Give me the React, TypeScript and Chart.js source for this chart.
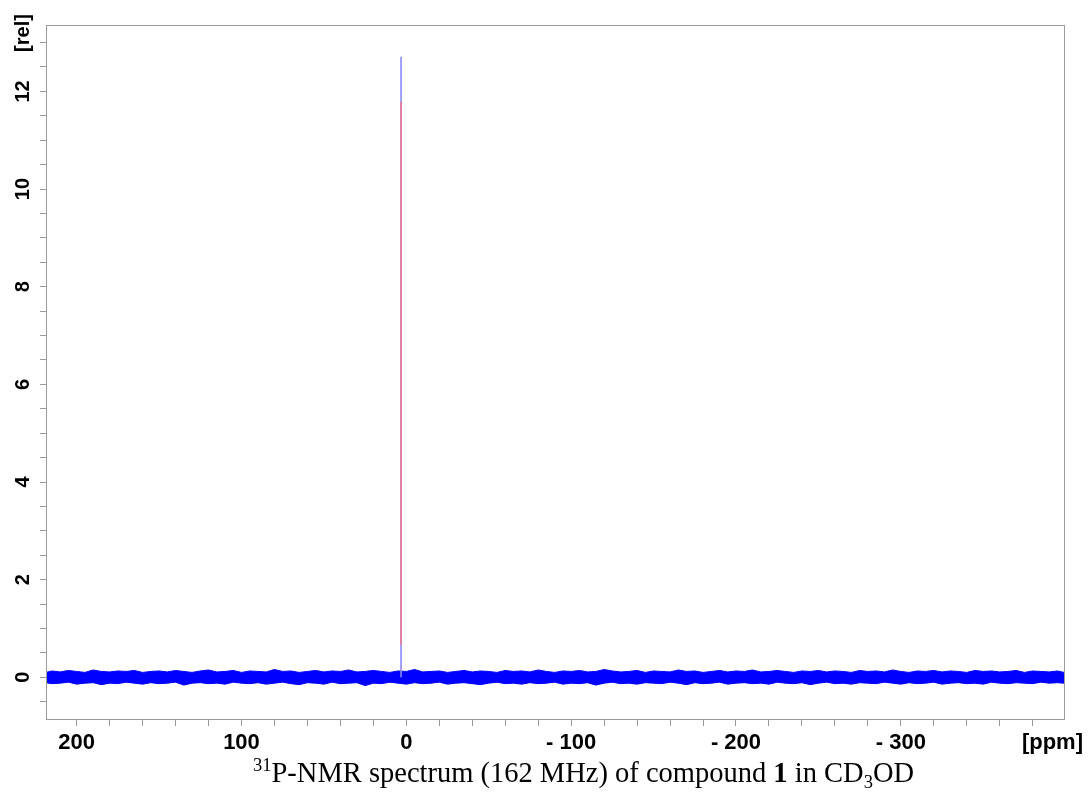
import React, { useEffect, useRef } from "react";
import { Chart, registerables } from "chart.js";

Chart.register(...registerables);

// ---- data ----
const xMinPpm = -399;
const xMaxPpm = 218.6;
const yMinRel = -0.854;
const yMaxRel = 13.36;

const peakPpm = 3.2;
const peakBlueTop = 12.71;
const peakRedBottom = 0.66;
const peakRedTop = 11.79;

// baseline noise envelope (ppm positions and upper / lower extents)
const noisePpm = [
  218.6, 215, 210, 205, 200, 195, 190, 185, 180, 175,
  170, 165, 160, 155, 150, 145, 140, 135, 130, 125,
  120, 115, 110, 105, 100, 95, 90, 85, 80, 75,
  70, 65, 60, 55, 50, 45, 40, 35, 30, 25,
  20, 15, 10, 5, 0, -5, -10, -15, -20, -25,
  -30, -35, -40, -45, -50, -55, -60, -65, -70, -75,
  -80, -85, -90, -95, -100, -105, -110, -115, -120, -125,
  -130, -135, -140, -145, -150, -155, -160, -165, -170, -175,
  -180, -185, -190, -195, -200, -205, -210, -215, -220, -225,
  -230, -235, -240, -245, -250, -255, -260, -265, -270, -275,
  -280, -285, -290, -295, -300, -305, -310, -315, -320, -325,
  -330, -335, -340, -345, -350, -355, -360, -365, -370, -375,
  -380, -385, -390, -395, -399,
];
const noiseUpper = [
  0.10, 0.13, 0.11, 0.14, 0.12, 0.10, 0.15, 0.12, 0.11, 0.13,
  0.12, 0.14, 0.10, 0.12, 0.13, 0.11, 0.14, 0.12, 0.10, 0.13,
  0.15, 0.11, 0.12, 0.14, 0.10, 0.13, 0.12, 0.11, 0.16, 0.12,
  0.13, 0.10, 0.12, 0.14, 0.11, 0.13, 0.12, 0.15, 0.11, 0.12,
  0.14, 0.12, 0.10, 0.13, 0.12, 0.16, 0.11, 0.12, 0.13, 0.10,
  0.12, 0.14, 0.11, 0.13, 0.12, 0.10, 0.14, 0.12, 0.13, 0.11,
  0.15, 0.12, 0.10, 0.13, 0.12, 0.14, 0.11, 0.12, 0.16, 0.13,
  0.11, 0.12, 0.14, 0.10, 0.13, 0.12, 0.11, 0.15, 0.12, 0.13,
  0.10, 0.12, 0.14, 0.11, 0.13, 0.12, 0.15, 0.11, 0.12, 0.14,
  0.12, 0.10, 0.13, 0.12, 0.14, 0.11, 0.13, 0.12, 0.10, 0.14,
  0.12, 0.13, 0.11, 0.15, 0.12, 0.10, 0.13, 0.12, 0.14, 0.11,
  0.13, 0.12, 0.10, 0.14, 0.12, 0.13, 0.11, 0.12, 0.14, 0.10,
  0.13, 0.12, 0.11, 0.13, 0.10,
];
const noiseLower = [
  -0.11, -0.13, -0.12, -0.10, -0.14, -0.12, -0.11, -0.15, -0.12, -0.13,
  -0.10, -0.12, -0.14, -0.11, -0.13, -0.12, -0.10, -0.16, -0.12, -0.11,
  -0.13, -0.12, -0.14, -0.10, -0.12, -0.13, -0.11, -0.14, -0.12, -0.10,
  -0.13, -0.15, -0.11, -0.12, -0.14, -0.10, -0.13, -0.12, -0.11, -0.17,
  -0.12, -0.13, -0.10, -0.12, -0.14, -0.11, -0.13, -0.12, -0.10, -0.14,
  -0.12, -0.11, -0.13, -0.15, -0.12, -0.10, -0.13, -0.12, -0.14, -0.11,
  -0.13, -0.12, -0.10, -0.14, -0.12, -0.13, -0.11, -0.16, -0.12, -0.10,
  -0.13, -0.12, -0.14, -0.11, -0.12, -0.13, -0.10, -0.12, -0.15, -0.11,
  -0.13, -0.12, -0.10, -0.14, -0.12, -0.11, -0.13, -0.12, -0.14, -0.10,
  -0.12, -0.13, -0.11, -0.15, -0.12, -0.10, -0.13, -0.12, -0.14, -0.11,
  -0.12, -0.13, -0.10, -0.12, -0.14, -0.11, -0.13, -0.12, -0.10, -0.14,
  -0.12, -0.11, -0.13, -0.12, -0.14, -0.10, -0.12, -0.13, -0.11, -0.12,
  -0.13, -0.10, -0.12, -0.11, -0.12,
];

const xTickStep = 20;
const xLabelEvery = 100;
const yTickStep = 0.5;
const yLabelEvery = 2;
const xUnitLabel = "[ppm]";
const yUnitLabel = "[rel]";

const FONT_FAMILY = "Arial, 'Liberation Sans', sans-serif";
const X_FONT = "bold 22px " + FONT_FAMILY;
const Y_FONT = "bold 20px " + FONT_FAMILY;
const FRAME_COLOR = "#9a9a9a";

const formatPpm = (v: number) => (v < 0 ? "- " + String(-v) : String(v));

const overlayPlugin = {
  id: "nmrOverlay",
  afterDraw(chart: any) {
    const { ctx, chartArea, scales } = chart;
    const ys = scales.y;
    ctx.save();
    // frame
    ctx.strokeStyle = FRAME_COLOR;
    ctx.lineWidth = 1;
    ctx.strokeRect(
      Math.round(chartArea.left) + 0.5,
      Math.round(chartArea.top) + 0.5,
      Math.round(chartArea.right - chartArea.left),
      Math.round(chartArea.bottom - chartArea.top)
    );
    // rotated y labels
    ctx.fillStyle = "#000";
    ctx.font = Y_FONT;
    ctx.textAlign = "center";
    ctx.textBaseline = "middle";
    const labelX = 23;
    ys.ticks.forEach((t: any) => {
      const v = t.value;
      if (Math.abs(v / yLabelEvery - Math.round(v / yLabelEvery)) < 1e-6) {
        const py = ys.getPixelForValue(v);
        ctx.save();
        ctx.translate(labelX, py);
        ctx.rotate(-Math.PI / 2);
        ctx.fillText(String(Math.round(v)), 0, 0);
        ctx.restore();
      }
    });
    ctx.save();
    ctx.translate(labelX, 33);
    ctx.rotate(-Math.PI / 2);
    ctx.fillText(yUnitLabel, 0, 0);
    ctx.restore();
    // x unit label
    ctx.font = X_FONT;
    ctx.textAlign = "right";
    ctx.textBaseline = "alphabetic";
    ctx.fillText(xUnitLabel, 1083, 749);
    ctx.restore();
  },
};

export default function App() {
  const canvasRef = useRef<HTMLCanvasElement | null>(null);

  useEffect(() => {
    if (!canvasRef.current) return;
    const upper = noisePpm.map((p, i) => ({ x: p, y: noiseUpper[i] }));
    const lower = noisePpm.map((p, i) => ({ x: p, y: noiseLower[i] }));
    const chart = new Chart(canvasRef.current, {
      type: "line",
      data: {
        datasets: [
          {
            label: "peak (red)",
            data: [
              { x: peakPpm, y: peakRedBottom },
              { x: peakPpm, y: peakRedTop },
            ],
            borderColor: "#f0788e",
            borderWidth: 1.6,
            pointRadius: 0,
            fill: false,
          },
          {
            label: "peak",
            data: [
              { x: peakPpm, y: 0 },
              { x: peakPpm, y: peakBlueTop },
            ],
            borderColor: "#8a8aff",
            borderWidth: 1.6,
            pointRadius: 0,
            fill: false,
          },
          {
            label: "noise upper",
            data: upper,
            borderColor: "#0000ff",
            backgroundColor: "#0000ff",
            borderWidth: 1,
            pointRadius: 0,
            fill: "+1",
          },
          {
            label: "noise lower",
            data: lower,
            borderColor: "#0000ff",
            borderWidth: 1,
            pointRadius: 0,
            fill: false,
          },
        ],
      },
      options: {
        animation: false,
        responsive: false,
        events: [],
        layout: { padding: { top: 25, right: 25, left: 0, bottom: 49 } },
        plugins: { legend: { display: false }, tooltip: { enabled: false } },
        scales: {
          x: {
            type: "linear",
            reverse: true,
            min: xMinPpm,
            max: xMaxPpm,
            afterFit: (s: any) => {
              s.height = 40;
            },
            border: { display: true, color: FRAME_COLOR },
            grid: {
              drawOnChartArea: false,
              drawTicks: true,
              tickLength: 7,
              color: FRAME_COLOR,
              tickColor: FRAME_COLOR,
            },
            ticks: {
              stepSize: xTickStep,
              includeBounds: false,
              autoSkip: false,
              maxRotation: 0,
              minRotation: 0,
              padding: 4,
              color: "#000",
              font: { family: FONT_FAMILY, size: 22, weight: "bold" },
              callback: (v: any) => {
                const n = Number(v);
                return Math.abs(n % xLabelEvery) < 1e-6 ? formatPpm(n) : "";
              },
            },
          },
          y: {
            type: "linear",
            min: yMinRel,
            max: yMaxRel,
            afterFit: (s: any) => {
              s.width = 46;
            },
            border: { display: true, color: FRAME_COLOR },
            grid: {
              drawOnChartArea: false,
              drawTicks: true,
              tickLength: 6,
              color: FRAME_COLOR,
              tickColor: FRAME_COLOR,
            },
            ticks: {
              stepSize: yTickStep,
              includeBounds: false,
              autoSkip: false,
              display: false,
            },
          },
        },
      },
      plugins: [overlayPlugin],
    } as any);
    return () => chart.destroy();
  }, []);

  return (
    <div
      style={{
        position: "absolute",
        left: 0,
        top: 0,
        width: 1089,
        height: 808,
        background: "#fff",
        overflow: "hidden",
      }}
    >
      <canvas ref={canvasRef} width={1089} height={808} style={{ display: "block" }} />
      <div
        style={{
          position: "absolute",
          left: 253,
          top: 757,
          whiteSpace: "nowrap",
          fontFamily: "'Times New Roman', 'Liberation Serif', serif",
          fontSize: 28.5,
          lineHeight: "32px",
          color: "#000",
        }}
      >
        <span style={{ fontSize: 18.5, position: "relative", top: -11 }}>31</span>
        P-NMR spectrum (162 MHz) of compound <b>1</b> in CD
        <span style={{ fontSize: 18.5, position: "relative", top: 6 }}>3</span>OD
      </div>
    </div>
  );
}
